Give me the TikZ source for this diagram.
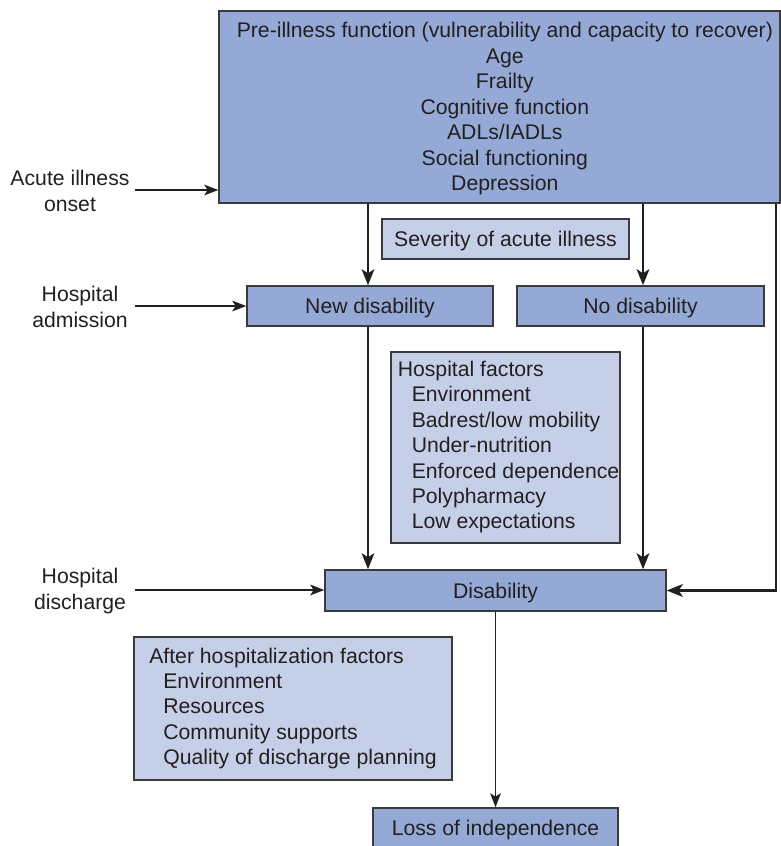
\documentclass[tikz,border=0pt]{standalone}
\usepackage{fontspec}
\setmainfont{Liberation Sans}
\usetikzlibrary{arrows.meta}

\definecolor{boxfill}{HTML}{94A9D5}
\definecolor{factorfill}{HTML}{C5D0E8}
\definecolor{edge}{HTML}{3A3A3A}
\definecolor{ink}{HTML}{231F20}

\tikzset{
  base/.style={draw=edge, line width=1.1pt, inner sep=0pt, text=ink,
    font=\fontsize{15.9}{19.1}\selectfont},
  mainbox/.style={base, fill=boxfill, align=center},
  factorbox/.style={base, fill=factorfill, align=left},
  oneline/.style={text depth=0pt},
  sidelabel/.style={text=ink, align=center, inner sep=0pt,
    font=\fontsize{15.9}{19.1}\selectfont},
  flow/.style={draw=ink, line width=1.9pt,
    -{Stealth[length=12pt, width=9.5pt, inset=3pt]}},
  entry/.style={draw=ink, line width=1pt,
    -{Stealth[length=10.5pt, width=8pt, inset=2.5pt]}},
}
\newcommand{\ind}{\hspace*{10.5pt}}

\begin{document}
\begin{tikzpicture}[x=0.75pt, y=-0.75pt]
  \useasboundingbox (0,0) rectangle (781,846);
  \clip (0,0) rectangle (781,846);

  % boxes
  \node[mainbox, minimum width=420.75pt, minimum height=144pt] (pre) at (499.5,107)
    {\hspace*{8pt}\raisebox{-1.6pt}[\height][\depth]{\begin{tabular}{@{}c@{}}
     Pre-illness function (vulnerability and capacity to recover)\\
     Age\\ Frailty\\ Cognitive function\\ ADLs/IADLs\\ Social functioning\\ Depression
     \end{tabular}}};
  \node[factorbox, oneline, minimum width=185.25pt, minimum height=30pt] (sev) at (505.5,239)
    {Severity of acute illness};
  \node[mainbox, oneline, minimum width=184.5pt, minimum height=30pt] (newdis) at (370,306)
    {New disability};
  \node[mainbox, oneline, minimum width=185.25pt, minimum height=30pt] (nodis) at (640.5,306)
    {No disability};
  \node[factorbox, minimum width=171.75pt, minimum height=143.25pt] (hosp) at (505.5,447.5)
    {\hspace*{4.5pt}\begin{tabular}{@{}l@{}}
     Hospital factors\\ \ind Environment\\ \ind Badrest/low mobility\\
     \ind Under-nutrition\\ \ind Enforced dependence\\ \ind Polypharmacy\\
     \ind Low expectations
     \end{tabular}};
  \node[mainbox, oneline, minimum width=255.75pt, minimum height=30.75pt] (disab) at (495.5,590.5)
    {Disability};
  \node[factorbox, minimum width=238.5pt, minimum height=107.25pt] (after) at (293,708.5)
    {After hospitalization factors\\ \ind Environment\\ \ind Resources\\
     \ind Community supports\\ \ind Quality of discharge planning};
  \node[mainbox, oneline, minimum width=183.75pt, minimum height=30pt] (loss) at (495.5,828)
    {Loss of independence};

  % time-point labels on the left
  \node[sidelabel] (onset) at (70,191) {Acute illness\\onset};
  \node[sidelabel] (admit) at (80,307) {Hospital\\admission};
  \node[sidelabel] (disch) at (80,591) {Hospital\\discharge};
  \coordinate (onsetend) at (135,190);
  \coordinate (admitend) at (135,306);
  \coordinate (dischend) at (135,590);

  \draw[entry] (onsetend) -- (onsetend -| pre.west);
  \draw[entry] (admitend) -- (newdis.west);
  \draw[entry] (dischend) -- (dischend -| disab.west);

  % main flow
  \coordinate (leftcol) at (368,0);
  \coordinate (midcol) at (643,0);
  \coordinate (rightcol) at (776,0);
  \draw[flow] (pre.south -| leftcol) -- (newdis.north -| leftcol);
  \draw[flow] (pre.south -| midcol) -- (nodis.north -| midcol);
  \draw[flow] (newdis.south -| leftcol) -- (disab.north -| leftcol);
  \draw[flow] (nodis.south -| midcol) -- (disab.north -| midcol);
  \draw[flow] (pre.south -| rightcol) |- (disab.east);
  \draw[entry] (disab.south) -- (loss.north);
\end{tikzpicture}
\end{document}
